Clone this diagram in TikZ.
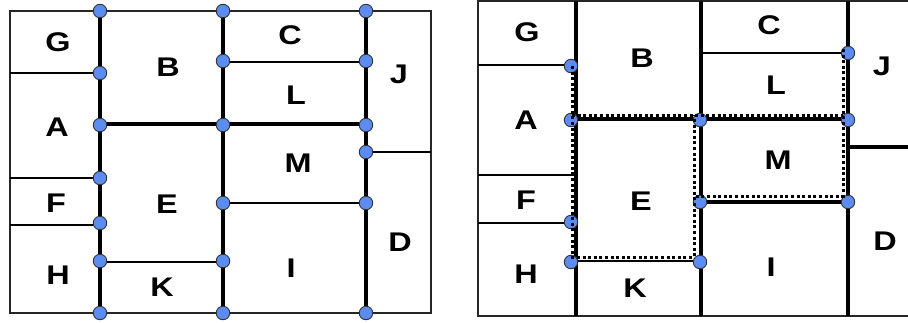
\documentclass[tikz,border=0pt]{standalone}
\usepackage{fontspec}
\newfontfamily\lblfont[FakeStretch=1.2]{Liberation Sans Bold}
\definecolor{dotblue}{RGB}{92,140,240}
\tikzset{
  pt/.style={circle,fill=dotblue,draw=black!80,line width=0.9pt,inner sep=0pt,minimum size=13.5pt},
  lbl/.style={inner sep=0pt,font=\lblfont\fontsize{27}{31}\selectfont},
  frame/.style={line width=1.5pt,draw=black!85},
  heavy/.style={line width=3.1pt},
  mid/.style={line width=2.5pt},
  light/.style={line width=1.9pt},
  dotln/.style={line width=3pt,dash pattern=on 3pt off 2.6pt}
}
\begin{document}
\begin{tikzpicture}[x=1pt,y=-1pt]
 \useasboundingbox (0,0) rectangle (908,322);
 % left plan
 \draw[frame](10,11) rectangle (431,313);
 \draw[heavy](100,11)--(100,313);
 \draw[heavy](223,11)--(223,313);
 \draw[heavy](366,11)--(366,313);
 \draw[light](10,73)--(100,73);
 \draw[mid](10,178)--(100,178);
 \draw[light](10,225)--(100,225);
 \draw[mid](223,62)--(366,62);
 \draw[heavy](100,124)--(366,124);
 \draw[light](223,203)--(366,203);
 \draw[light](100,262)--(223,262);
 \draw[mid](366,152)--(431,152);
 \node[pt] (a1) at (100,11) {};
 \node[pt] (a2) at (223,11) {};
 \node[pt] (a3) at (366,11) {};
 \node[pt] (a4) at (100,73) {};
 \node[pt] (a5) at (223,61) {};
 \node[pt] (a6) at (366,61) {};
 \node[pt] (a7) at (100,125) {};
 \node[pt] (a8) at (223,125) {};
 \node[pt] (a9) at (366,125) {};
 \node[pt] (a10) at (366,152) {};
 \node[pt] (a11) at (100,178) {};
 \node[pt] (a12) at (223,203) {};
 \node[pt] (a13) at (366,203) {};
 \node[pt] (a14) at (100,223) {};
 \node[pt] (a15) at (100,261) {};
 \node[pt] (a16) at (223,261) {};
 \node[pt] (a17) at (100,313) {};
 \node[pt] (a18) at (223,313) {};
 \node[pt] (a19) at (366,313) {};
 \node[lbl] (lG) at (58,42) {G};
 \node[lbl] (lB) at (168,67) {B};
 \node[lbl] (lC) at (290,35) {C};
 \node[lbl] (lL) at (296,95) {L};
 \node[lbl] (lJ) at (399,74) {J};
 \node[lbl] (lA) at (57,127) {A};
 \node[lbl] (lM) at (298,163) {M};
 \node[lbl] (lF) at (56,203) {F};
 \node[lbl] (lE) at (167,204) {E};
 \node[lbl] (lD) at (400,242) {D};
 \node[lbl] (lH) at (58,275) {H};
 \node[lbl] (lK) at (162,287) {K};
 \node[lbl] (lI) at (291,268) {I};
 % right plan
 \draw[frame](478,1) rectangle (912,316);
 \draw[heavy](576,1)--(576,316);
 \draw[heavy](701,1)--(701,316);
 \draw[heavy](848,1)--(848,316);
 \draw[light](478,65)--(576,65);
 \draw[light](478,175)--(576,175);
 \draw[light](478,223)--(576,223);
 \draw[light](701,53)--(848,53);
 \draw[heavy](576,119)--(848,119);
 \draw[heavy](701,202)--(848,202);
 \draw[light](576,261)--(701,261);
 \draw[heavy](848,147)--(910,147);
 \node[pt] (b1) at (571,66) {};
 \node[pt] (b2) at (571,120) {};
 \node[pt] (b3) at (571,222) {};
 \node[pt] (b4) at (571,262) {};
 \node[pt] (b5) at (700,120) {};
 \node[pt] (b6) at (700,202) {};
 \node[pt] (b7) at (700,262) {};
 \node[pt] (b8) at (848,53) {};
 \node[pt] (b9) at (848,120) {};
 \node[pt] (b10) at (848,202) {};
 \draw[dotln](572,66)--(572,257)--(694,257)--(694,115);
 \draw[dotln](572,115)--(843,115);
 \draw[dotln](843,49)--(843,196)--(694,196);
 \node[lbl] (rG) at (527,32) {G};
 \node[lbl] (rB) at (642,58) {B};
 \node[lbl] (rC) at (769,25) {C};
 \node[lbl] (rL) at (776,85) {L};
 \node[lbl] (rJ) at (882,66) {J};
 \node[lbl] (rA) at (526,120) {A};
 \node[lbl] (rM) at (778,160) {M};
 \node[lbl] (rF) at (526,200) {F};
 \node[lbl] (rE) at (641,201) {E};
 \node[lbl] (rD) at (885,241) {D};
 \node[lbl] (rH) at (526,274) {H};
 \node[lbl] (rK) at (635,288) {K};
 \node[lbl] (rI) at (771,267) {I};
\end{tikzpicture}
\end{document}
